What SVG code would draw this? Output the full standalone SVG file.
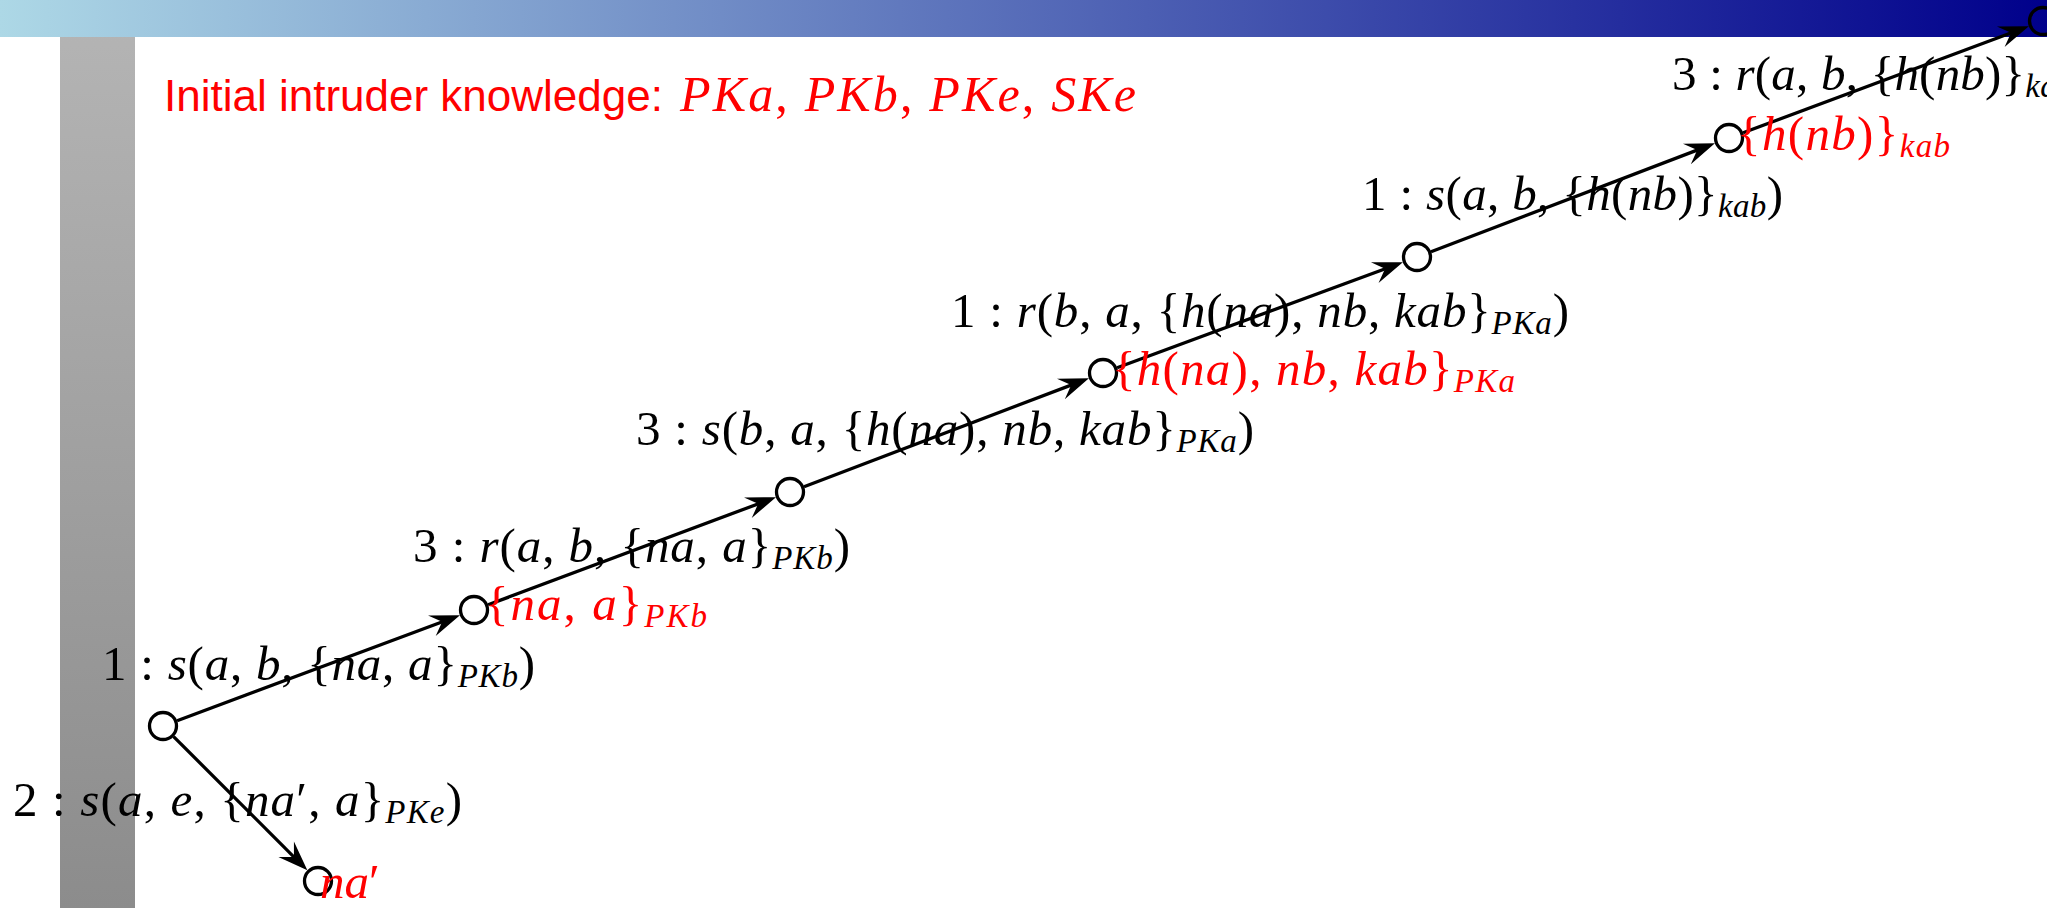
<svg xmlns="http://www.w3.org/2000/svg" width="2047" height="908" viewBox="0 0 2047 908">
<defs>
<linearGradient id="hdr" x1="0" y1="0" x2="1" y2="0">
<stop offset="0" stop-color="#add8e6"/>
<stop offset="1" stop-color="#00008b"/>
</linearGradient>
<linearGradient id="side" x1="0" y1="0" x2="0" y2="1">
<stop offset="0" stop-color="#b5b5b5"/>
<stop offset="1" stop-color="#8c8c8c"/>
</linearGradient>
<marker id="arr" markerUnits="userSpaceOnUse" markerWidth="40" markerHeight="40" refX="0" refY="0" orient="auto" overflow="visible">
<path d="M10,0 L-20,-11 L-9,0 L-20,11 Z" fill="#000"/>
</marker>
<style>
.node{fill:none;stroke:#000;stroke-width:3.3}
.edge{stroke:#000;stroke-width:3.3;fill:none}
.lbl{font-family:"Liberation Serif","Times New Roman",serif;font-size:49px;fill:#000}
.red{fill:#ff0000}
.i{font-style:italic}
.sub{font-style:italic;font-size:33px}
.sans{font-family:"Liberation Sans",Arial,sans-serif;font-size:44px;fill:#ff0000}
</style>
</defs>
<rect id="sidebar" x="60" y="0" width="75" height="908" fill="url(#side)"/>
<rect id="header" x="0" y="0" width="2047" height="37" fill="url(#hdr)"/>
<g id="intruder-knowledge">
<text class="sans" x="164" y="111">Initial intruder knowledge:</text>
<text class="lbl red" x="680" y="111" style="font-size:50px" textLength="456"><tspan class="i">PKa</tspan>, <tspan class="i">PKb</tspan>, <tspan class="i">PKe</tspan>, <tspan class="i">SKe</tspan></text>
</g>
<g id="connectors">
<line class="edge" x1="177.1" y1="720.8" x2="450.6" y2="618.7" marker-end="url(#arr)"/>
<line class="edge" x1="173.6" y1="736.6" x2="300.3" y2="863.3" marker-end="url(#arr)"/>
<line class="edge" x1="488.1" y1="604.8" x2="766.6" y2="500.7" marker-end="url(#arr)"/>
<line class="edge" x1="804.0" y1="486.7" x2="1079.6" y2="381.9" marker-end="url(#arr)"/>
<line class="edge" x1="1117.1" y1="367.8" x2="1393.5" y2="265.7" marker-end="url(#arr)"/>
<line class="edge" x1="1431.0" y1="251.7" x2="1705.6" y2="146.9" marker-end="url(#arr)"/>
<line class="edge" x1="1743.1" y1="132.8" x2="2019.5" y2="29.7" marker-end="url(#arr)"/>
<text class="lbl" x="102" y="680" textLength="433">1 : <tspan class="i">s</tspan>(<tspan class="i">a</tspan>, <tspan class="i">b</tspan>, {<tspan class="i">na</tspan>, <tspan class="i">a</tspan>}<tspan class="sub" dy="7">PKb</tspan><tspan dy="-7">)</tspan></text>
<text class="lbl" x="13" y="816" textLength="449">2 : <tspan class="i">s</tspan>(<tspan class="i">a</tspan>, <tspan class="i">e</tspan>, {<tspan class="i">na</tspan>′, <tspan class="i">a</tspan>}<tspan class="sub" dy="7">PKe</tspan><tspan dy="-7">)</tspan></text>
<text class="lbl" x="413" y="562" textLength="437">3 : <tspan class="i">r</tspan>(<tspan class="i">a</tspan>, <tspan class="i">b</tspan>, {<tspan class="i">na</tspan>, <tspan class="i">a</tspan>}<tspan class="sub" dy="7">PKb</tspan><tspan dy="-7">)</tspan></text>
<text class="lbl" x="636" y="445" textLength="618">3 : <tspan class="i">s</tspan>(<tspan class="i">b</tspan>, <tspan class="i">a</tspan>, {<tspan class="i">h</tspan>(<tspan class="i">na</tspan>), <tspan class="i">nb</tspan>, <tspan class="i">kab</tspan>}<tspan class="sub" dy="7">PKa</tspan><tspan dy="-7">)</tspan></text>
<text class="lbl" x="951" y="327" textLength="618">1 : <tspan class="i">r</tspan>(<tspan class="i">b</tspan>, <tspan class="i">a</tspan>, {<tspan class="i">h</tspan>(<tspan class="i">na</tspan>), <tspan class="i">nb</tspan>, <tspan class="i">kab</tspan>}<tspan class="sub" dy="7">PKa</tspan><tspan dy="-7">)</tspan></text>
<text class="lbl" x="1362" y="210" textLength="421">1 : <tspan class="i">s</tspan>(<tspan class="i">a</tspan>, <tspan class="i">b</tspan>, {<tspan class="i">h</tspan>(<tspan class="i">nb</tspan>)}<tspan class="sub" dy="7">kab</tspan><tspan dy="-7">)</tspan></text>
<text class="lbl" x="1672" y="90" textLength="418">3 : <tspan class="i">r</tspan>(<tspan class="i">a</tspan>, <tspan class="i">b</tspan>, {<tspan class="i">h</tspan>(<tspan class="i">nb</tspan>)}<tspan class="sub" dy="7">kab</tspan><tspan dy="-7">)</tspan></text>
</g>
<g id="n0"><circle class="node" cx="163" cy="726" r="13.5"/></g>
<g id="n1"><circle class="node" cx="318" cy="881" r="13.5"/>
<text class="lbl red" x="320" y="898"><tspan class="i">na</tspan>′</text></g>
<g id="n2"><circle class="node" cx="474" cy="610" r="13.5"/>
<text class="lbl red" x="485" y="620" textLength="222">{<tspan class="i">na</tspan>, <tspan class="i">a</tspan>}<tspan class="sub" dy="7">PKb</tspan></text></g>
<g id="n3"><circle class="node" cx="790" cy="492" r="13.5"/></g>
<g id="n4"><circle class="node" cx="1103" cy="373" r="13.5"/>
<text class="lbl red" x="1112" y="385" textLength="403">{<tspan class="i">h</tspan>(<tspan class="i">na</tspan>), <tspan class="i">nb</tspan>, <tspan class="i">kab</tspan>}<tspan class="sub" dy="7">PKa</tspan></text></g>
<g id="n5"><circle class="node" cx="1417" cy="257" r="13.5"/></g>
<g id="n6"><circle class="node" cx="1729" cy="138" r="13.5"/>
<text class="lbl red" x="1737" y="150" textLength="213">{<tspan class="i">h</tspan>(<tspan class="i">nb</tspan>)}<tspan class="sub" dy="7">kab</tspan></text></g>
<g id="n7"><circle class="node" cx="2043" cy="21" r="13.5"/></g>
</svg>
